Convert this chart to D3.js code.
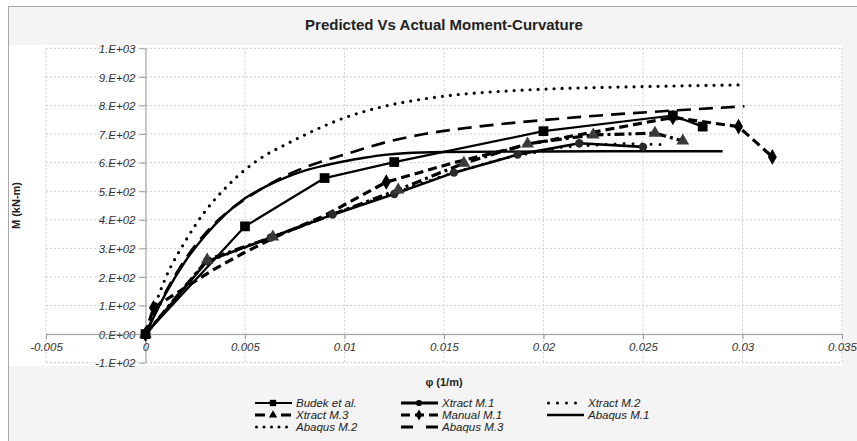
<!DOCTYPE html>
<html>
<head>
<meta charset="utf-8">
<script src="https://cdn.jsdelivr.net/npm/d3@7"></script>
<style>
body { margin: 0; background: #fff; }
text { font-family: "Liberation Sans", Arial, sans-serif; }
</style>
</head>
<body>
<svg id="chart" width="857" height="441"></svg>
<script>
// data
var budekX = [0, 0.005, 0.009, 0.0125, 0.02, 0.0265, 0.028];
var budekY = [0, 377, 546, 602, 710, 765, 726];

var xtract1X = [0, 0.0031, 0.0063, 0.0094, 0.0125, 0.0155, 0.0187, 0.0218, 0.025];
var xtract1Y = [0, 255, 338, 418, 490, 565, 628, 668, 655];

var xtract2X = [0, 0.003, 0.006, 0.009, 0.012, 0.015, 0.018, 0.021, 0.024, 0.026];
var xtract2Y = [0, 250, 330, 410, 482, 555, 615, 655, 667, 663];

var xtract3X = [0, 0.0031, 0.0064, 0.0127, 0.016, 0.0192, 0.0225, 0.0256, 0.027];
var xtract3Y = [0, 260, 340, 505, 598, 666, 697, 703, 676];

var manualX = [0, 0.0004, 0.0034, 0.0049, 0.0069, 0.0089, 0.0121, 0.0155, 0.0195, 0.0265, 0.0298, 0.0315];
var manualY = [0, 92, 225, 283, 352, 411, 532, 600, 668, 758, 726, 620];
var manualMarked = [0, 1, 6, 9, 10, 11];

var abaqus1X = [0, 0.001, 0.002, 0.003, 0.004, 0.005, 0.006, 0.007, 0.008, 0.009, 0.01, 0.011, 0.012, 0.013, 0.015, 0.02, 0.025, 0.029];
var abaqus1Y = [0, 140, 255, 345, 418, 475, 515, 547, 572, 590, 605, 617, 627, 633, 637, 639, 640, 640];

var abaqus2X = [0, 0.0005, 0.001, 0.002, 0.003, 0.004, 0.005, 0.006, 0.007, 0.008, 0.01, 0.012, 0.014, 0.016, 0.018, 0.02, 0.025, 0.0299];
var abaqus2Y = [0, 105, 195, 325, 430, 510, 575, 625, 662, 697, 757, 797, 823, 840, 850, 857, 866, 872];

var abaqus3X = [0, 0.001, 0.002, 0.003, 0.004, 0.005, 0.006, 0.007, 0.008, 0.009, 0.01, 0.012, 0.014, 0.016, 0.018, 0.02, 0.023, 0.026, 0.0301];
var abaqus3Y = [0, 145, 262, 352, 420, 472, 515, 553, 583, 607, 628, 670, 700, 720, 736, 749, 766, 780, 797];

var xTicks = [-0.005, 0, 0.005, 0.01, 0.015, 0.02, 0.025, 0.03, 0.035];
var xTickLabels = ["-0.005", "0", "0.005", "0.01", "0.015", "0.02", "0.025", "0.03", "0.035"];
var yTicks = [-100, 0, 100, 200, 300, 400, 500, 600, 700, 800, 900, 1000];
var yTickLabels = ["-1.E+02", "0.E+00", "1.E+02", "2.E+02", "3.E+02", "4.E+02", "5.E+02",
                   "6.E+02", "7.E+02", "8.E+02", "9.E+02", "1.E+03"];

var legendNames = ["Budek et al.", "Xtract M.1", "Xtract M.2",
                   "Xtract M.3", "Manual M.1", "Abaqus M.1",
                   "Abaqus M.2", "Abaqus M.3"];

var svg = d3.select("#chart");

var PL = 46, PR = 842, PT = 48.3, PB = 362.7;

var x = d3.scaleLinear().domain([-0.005, 0.035]).range([PL, PR]);
var y = d3.scaleLinear().domain([-100, 1000]).range([PB, PT]);

// chart frame & backgrounds
svg.append("rect").attr("x", 8.5).attr("y", 6.5).attr("width", 860).attr("height", 440)
    .attr("fill", "#f4f4f4").attr("stroke", "#a8a8a8").attr("stroke-width", 1);
svg.append("rect").attr("x", 9).attr("y", 45).attr("width", PR - 9).attr("height", 321)
    .attr("fill", "#fff");

// gridlines
var grid = svg.append("g");
grid.selectAll("line.gx").data(xTicks).enter().append("line")
    .attr("x1", function(d) { return x(d); }).attr("x2", function(d) { return x(d); })
    .attr("y1", PT).attr("y2", PB)
    .attr("stroke", "#cfcfcf").attr("stroke-dasharray", "2,2");
grid.selectAll("line.gy").data(yTicks).enter().append("line")
    .attr("x1", PL).attr("x2", PR)
    .attr("y1", function(d) { return y(d); }).attr("y2", function(d) { return y(d); })
    .attr("stroke", "#cfcfcf").attr("stroke-dasharray", "2,2");

// axes crossing at zero
var yAxis = d3.axisLeft(y).tickValues(yTicks).tickSize(6).tickSizeOuter(0)
    .tickFormat(function(d, i) { return yTickLabels[i]; });
var xAxis = d3.axisBottom(x).tickValues(xTicks).tickSize(5).tickSizeOuter(0)
    .tickFormat(function(d, i) { return xTickLabels[i]; });

var gy = svg.append("g").attr("transform", "translate(" + x(0) + ",0)").call(yAxis);
var gx = svg.append("g").attr("transform", "translate(0," + y(0) + ")").call(xAxis);
[gx, gy].forEach(function(g) {
    g.select(".domain").attr("stroke", "#9a9a9a");
    g.selectAll(".tick line").attr("stroke", "#9a9a9a");
    g.selectAll(".tick text").attr("fill", "#333").style("font-size", "11.5px")
        .style("font-style", "italic").style("font-family", "'Liberation Sans', Arial, sans-serif");
});
gy.selectAll(".tick text").attr("x", -10).attr("dy", "0.36em");
gx.selectAll(".tick text").attr("y", 9);

// series
function pts(xs, ys) {
    return xs.map(function(v, i) { return [v, ys[i]]; });
}
var lineLin = d3.line().x(function(d) { return x(d[0]); }).y(function(d) { return y(d[1]); });
var lineSmooth = d3.line().curve(d3.curveMonotoneX)
    .x(function(d) { return x(d[0]); }).y(function(d) { return y(d[1]); });

var series = svg.append("g");
function drawLine(data, gen, width, dash, cap) {
    series.append("path").attr("d", gen(data))
        .attr("fill", "none").attr("stroke", "#000")
        .attr("stroke-width", width)
        .attr("stroke-dasharray", dash)
        .attr("stroke-linecap", cap || "butt")
        .attr("stroke-linejoin", "round");
}

drawLine(pts(abaqus2X, abaqus2Y), lineSmooth, 3.2, "0,8", "round");
drawLine(pts(abaqus3X, abaqus3Y), lineSmooth, 2.6, "14,8");
drawLine(pts(abaqus1X, abaqus1Y), lineSmooth, 2.4, null);
drawLine(pts(xtract2X, xtract2Y), lineLin, 3, "0,9", "round");
drawLine(pts(manualX, manualY), lineLin, 3.2, "9,5");
drawLine(pts(xtract3X, xtract3Y), lineLin, 3.2, "10,4,3,4");
drawLine(pts(xtract1X, xtract1Y), lineLin, 2.6, null);
drawLine(pts(budekX, budekY), lineLin, 2.2, null);

var sym = {
    square: d3.symbol().type(d3.symbolSquare),
    circle: d3.symbol().type(d3.symbolCircle),
    triangle: d3.symbol().type(d3.symbolTriangle),
    diamond: d3.symbol().type(d3.symbolDiamond)
};
function drawMarks(data, type, size, fill) {
    series.append("g").selectAll("path").data(data).enter().append("path")
        .attr("transform", function(d) { return "translate(" + x(d[0]) + "," + y(d[1]) + ")"; })
        .attr("d", sym[type].size(size)())
        .attr("fill", fill);
}
drawMarks(pts(xtract1X, xtract1Y), "circle", 55, "#2a2a2a");
drawMarks(pts(xtract3X, xtract3Y), "triangle", 70, "#3a3a3a");
drawMarks(manualMarked.map(function(i) { return [manualX[i], manualY[i]]; }), "diamond", 70, "#000");
drawMarks(pts(budekX, budekY), "square", 95, "#000");

// title & axis titles
svg.append("text").attr("x", 444).attr("y", 30).attr("text-anchor", "middle")
    .style("font-size", "15px").style("font-weight", "bold").attr("fill", "#222")
    .text("Predicted Vs Actual Moment-Curvature");
svg.append("text").attr("transform", "translate(20," + ((PT + PB) / 2) + ") rotate(-90)")
    .attr("text-anchor", "middle").style("font-size", "11px").style("font-weight", "bold")
    .attr("fill", "#222").text("M (kN-m)");
svg.append("text").attr("x", 444).attr("y", 386).attr("text-anchor", "middle")
    .style("font-size", "11px").style("font-weight", "bold").attr("fill", "#222")
    .text("φ (1/m)");

// legend
var legCols = [255, 401, 547];
var legRows = [403, 415, 427];
var legStyles = [
    { dash: null, w: 2.2, mark: "square", size: 40 },
    { dash: null, w: 3, mark: "circle", size: 30 },
    { dash: "0,9", w: 3, cap: "round" },
    { dash: "10,6,4,6", w: 3.2, mark: "triangle", size: 30 },
    { dash: "9,5", w: 3.2, mark: "diamond", size: 35 },
    { dash: null, w: 2.4 },
    { dash: "0,7.5", w: 3, cap: "round" },
    { dash: "12,13", w: 2.8 }
];
var leg = svg.append("g");
legendNames.forEach(function(name, i) {
    var lx = legCols[i % 3], ly = legRows[Math.floor(i / 3)];
    var st = legStyles[i];
    leg.append("line").attr("x1", lx + (st.cap ? 1.5 : 0)).attr("x2", lx + 37).attr("y1", ly).attr("y2", ly)
        .attr("stroke", "#000").attr("stroke-width", st.w)
        .attr("stroke-dasharray", st.dash).attr("stroke-linecap", st.cap || "butt");
    if (st.mark) {
        leg.append("path").attr("transform", "translate(" + (lx + 18) + "," + ly + ")")
            .attr("d", sym[st.mark].size(st.size)()).attr("fill", "#000");
    }
    leg.append("text").attr("x", lx + 41).attr("y", ly + 4)
        .style("font-size", "11.5px").style("font-style", "italic").attr("fill", "#222")
        .text(name);
});
</script>
</body>
</html>
